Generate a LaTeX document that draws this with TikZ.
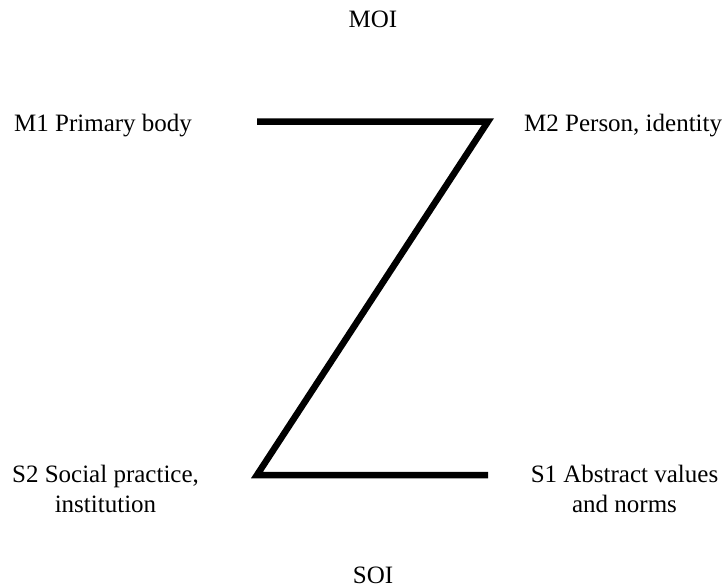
\documentclass[tikz,border=0pt]{standalone}
\usepackage{fontspec}
\setmainfont{Liberation Serif}
\begin{document}
\begin{tikzpicture}[x=1pt,y=-1pt,
  lbl/.style={inner sep=0pt,font=\fontsize{25}{30}\selectfont,align=center},
  zline/.style={line width=6.5pt,line join=miter,line cap=butt}]
\useasboundingbox (0,0) rectangle (726,587);
\node[lbl,anchor=base] (moi) at (373,27) {MOI};
\node[lbl,anchor=base west] (m1) at (14,131) {M1 Primary body};
\node[lbl,anchor=base west] (m2) at (524,131) {M2 Person, identity};
\node[lbl,anchor=base] (s2) at (105.5,512) {S2 Social practice,\\institution};
\node[lbl,anchor=base] (s1) at (624.5,512) {S1 Abstract values\\and norms};
\node[lbl,anchor=base] (soi) at (373,583) {SOI};
\coordinate (a) at (257,121.5);
\coordinate (b) at (488,121.5);
\coordinate (c) at (257,475);
\coordinate (d) at (488,475);
\draw[zline] (a) -- (b) -- (c) -- (d);
\end{tikzpicture}
\end{document}
